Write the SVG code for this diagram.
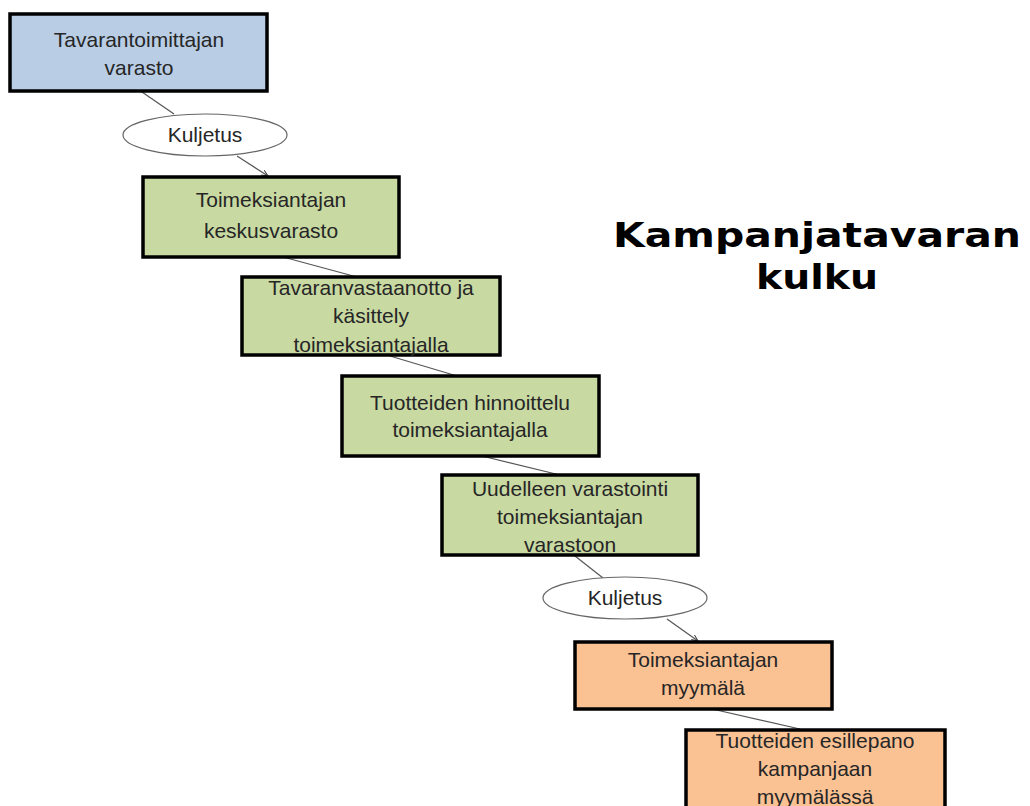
<svg xmlns="http://www.w3.org/2000/svg" width="1030" height="806" viewBox="0 0 1030 806">
  <defs>
    <marker id="arr" viewBox="0 0 10 10" refX="9" refY="5" markerWidth="7" markerHeight="7" orient="auto" markerUnits="userSpaceOnUse">
      <path d="M0,1 L9,5 L0,9" fill="none" stroke="#444" stroke-width="1.5"/>
    </marker>
  </defs>
  <style>
    .box { stroke: #000; stroke-width: 3.5; }
    .blue { fill: #b9cde5; }
    .green { fill: #c8d9a2; }
    .orange { fill: #fac193; }
    .ell { fill: #fff; stroke: #666; stroke-width: 1.2; }
    .t { font-family: "Liberation Sans", Arial, sans-serif; font-size: 21px; fill: #262626; text-anchor: middle; }
    .title { font-family: "DejaVu Sans", Verdana, sans-serif; font-weight: bold; font-size: 33px; fill: #000; text-anchor: middle; }
    .c { stroke: #555; stroke-width: 1.2; fill: none; }
  </style>
  <rect width="1030" height="806" fill="#fff"/>

  <g id="connectors">
    <line class="c" x1="142" y1="92" x2="174" y2="114"/>
    <line class="c" x1="237" y1="156" x2="268" y2="176" marker-end="url(#arr)"/>
    <line class="c" x1="283" y1="257" x2="357" y2="277"/>
    <line class="c" x1="390" y1="356" x2="457" y2="376"/>
    <line class="c" x1="482" y1="456" x2="560" y2="475"/>
    <line class="c" x1="575" y1="556" x2="603" y2="578"/>
    <line class="c" x1="667" y1="619" x2="698" y2="641" marker-end="url(#arr)"/>
    <line class="c" x1="712" y1="709" x2="800" y2="729"/>
  </g>

  <g id="n1">
    <rect class="box blue" x="10" y="14" width="257" height="77"/>
    <text class="t" x="139" y="47">Tavarantoimittajan</text>
    <text class="t" x="139" y="75">varasto</text>
  </g>
  <g id="e1">
    <ellipse class="ell" cx="205" cy="135" rx="82" ry="21"/>
    <text class="t" x="205" y="142">Kuljetus</text>
  </g>
  <g id="n2">
    <rect class="box green" x="143" y="177" width="256" height="80"/>
    <text class="t" x="271" y="207">Toimeksiantajan</text>
    <text class="t" x="271" y="238">keskusvarasto</text>
  </g>
  <g id="n3">
    <rect class="box green" x="242" y="277" width="258" height="78"/>
    <text class="t" x="371" y="295">Tavaranvastaanotto ja</text>
    <text class="t" x="371" y="323">käsittely</text>
    <text class="t" x="371" y="352">toimeksiantajalla</text>
  </g>
  <g id="n4">
    <rect class="box green" x="342" y="376" width="257" height="80"/>
    <text class="t" x="470" y="410">Tuotteiden hinnoittelu</text>
    <text class="t" x="470" y="437">toimeksiantajalla</text>
  </g>
  <g id="n5">
    <rect class="box green" x="442" y="475" width="256" height="80"/>
    <text class="t" x="570" y="496">Uudelleen varastointi</text>
    <text class="t" x="570" y="524">toimeksiantajan</text>
    <text class="t" x="570" y="552">varastoon</text>
  </g>
  <g id="e2">
    <ellipse class="ell" cx="625" cy="598" rx="82" ry="21"/>
    <text class="t" x="625" y="605">Kuljetus</text>
  </g>
  <g id="n6">
    <rect class="box orange" x="575" y="642" width="257" height="67"/>
    <text class="t" x="703" y="667">Toimeksiantajan</text>
    <text class="t" x="703" y="695">myymälä</text>
  </g>
  <g id="n7">
    <rect class="box orange" x="686" y="730" width="259" height="90"/>
    <text class="t" x="815" y="748">Tuotteiden esillepano</text>
    <text class="t" x="815" y="776">kampanjaan</text>
    <text class="t" x="815" y="804">myymälässä</text>
  </g>

  <g id="title">
    <text class="title" x="817" y="247" textLength="408" lengthAdjust="spacingAndGlyphs">Kampanjatavaran</text>
    <text class="title" x="817" y="289" textLength="122" lengthAdjust="spacingAndGlyphs">kulku</text>
  </g>
</svg>
